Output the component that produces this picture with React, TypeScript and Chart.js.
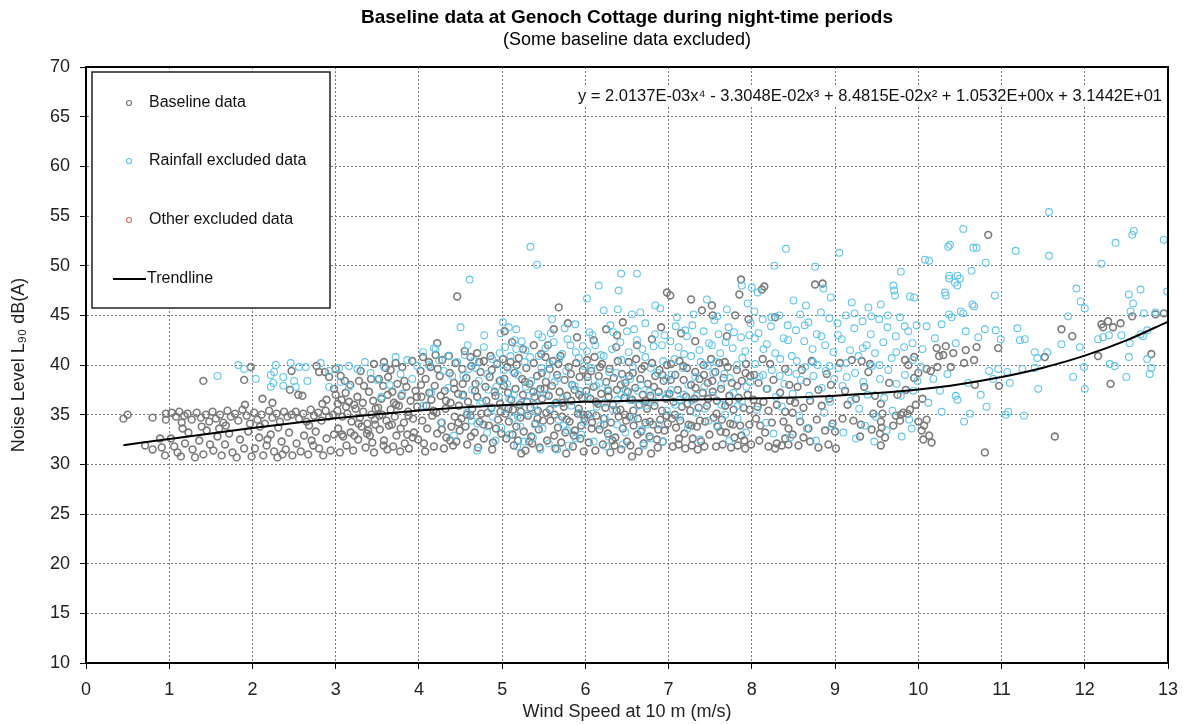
import React, { useEffect, useRef } from "react";
import { Chart, registerables } from "chart.js";

Chart.register(...registerables);

const FONT = "'Liberation Sans', Arial, Helvetica, sans-serif";

const titleText = "Baseline data at Genoch Cottage during night-time periods";
const subtitleText = "(Some baseline data excluded)";
const xAxisTitle = "Wind Speed at 10 m (m/s)";
const yAxisTitle = "Noise Level L\u2089\u2080 dB(A)";
const equationText =
  "y = 2.0137E-03x\u2074 - 3.3048E-02x\u00b3 + 8.4815E-02x\u00b2 + 1.0532E+00x + 3.1442E+01";
const legendLabels = ["Baseline data", "Rainfall excluded data", "Other excluded data", "Trendline"];

const xMin = 0;
const xMax = 13;
const yMin = 10;
const yMax = 70;
const yStep = 5;

const baselinePoints: [number, number][] = [
  [0.45,34.6],[0.50,35.0],[0.80,34.7],[0.96,35.1],[0.96,34.5],[0.89,32.6],[0.80,31.5],[0.71,31.9],[0.91,31.7],[0.95,30.9],
  [1.03,35.2],[1.08,34.8],[1.12,35.3],[1.18,34.9],[1.22,35.1],[1.27,34.5],[1.33,35.2],[1.38,34.7],[1.44,35.0],[1.48,34.3],[1.15,34.2],
  [1.02,32.6],[1.06,31.8],[1.10,31.2],[1.14,30.8],[1.19,32.1],[1.23,33.2],[1.28,31.5],[1.31,30.7],[1.36,32.4],[1.41,31.0],[1.45,33.4],[1.49,32.0],[1.16,33.6],[1.39,33.8],
  [1.41,38.4],
  [1.52,35.3],[1.56,34.6],[1.61,35.0],[1.65,34.2],[1.70,35.4],[1.74,34.8],[1.79,35.1],[1.83,34.4],[1.88,35.5],[1.93,34.9],[1.97,34.1],[1.68,33.9],
  [1.53,31.4],[1.58,32.8],[1.63,30.9],[1.67,32.0],[1.72,33.1],[1.76,31.2],[1.81,30.7],[1.85,32.5],[1.90,31.6],[1.95,33.3],[1.99,30.8],[1.60,33.6],
  [1.90,38.5],[1.98,39.8],[1.91,36.0],
  [2.02,35.2],[2.06,34.5],[2.11,35.0],[2.15,34.1],[2.20,35.4],[2.24,34.7],[2.29,35.1],[2.33,34.3],[2.38,35.3],[2.42,34.8],[2.47,35.0],[2.09,33.8],[2.31,33.7],
  [2.03,31.6],[2.08,32.7],[2.13,30.9],[2.17,31.9],[2.22,33.0],[2.26,31.3],[2.30,30.7],[2.35,32.3],[2.40,31.5],[2.44,33.2],[2.48,30.9],[2.18,32.5],[2.36,31.0],
  [2.24,36.2],[2.47,39.4],[2.45,37.5],[2.12,36.6],
  [2.52,35.3],[2.56,34.6],[2.61,35.1],[2.65,34.3],[2.70,35.5],[2.74,34.9],[2.79,35.2],[2.83,34.4],[2.88,35.4],[2.92,34.8],[2.97,35.0],[2.68,33.9],
  [2.53,32.1],[2.58,31.3],[2.62,32.9],[2.67,31.0],[2.71,32.4],[2.76,33.3],[2.80,31.6],[2.85,30.9],[2.89,32.6],[2.94,31.4],[2.98,33.0],[2.73,31.9],
  [2.60,36.9],[2.77,39.9],[2.80,39.3],[2.87,39.3],[2.84,36.1],[2.89,36.5],[2.92,38.8],[2.98,37.6],[2.55,37.0],
  [3.00,39.6],[3.06,38.9],[3.11,38.4],[3.30,39.4],[3.28,38.4],[3.00,37.0],[3.07,36.5],[3.12,37.2],[3.16,36.3],[3.22,36.0],[3.26,36.8],[3.34,37.9],[3.40,37.3],[3.45,36.4],[3.48,35.6],
  [3.02,35.4],[3.08,34.8],[3.14,35.1],[3.19,34.3],[3.24,35.6],[3.29,34.7],[3.33,35.3],[3.38,34.1],[3.43,35.0],[3.47,34.5],
  [3.03,33.6],[3.09,32.8],[3.13,31.9],[3.18,33.2],[3.21,31.4],[3.27,32.5],[3.31,33.8],[3.36,31.7],[3.41,32.9],[3.46,31.2],[3.05,31.2],[3.39,33.4],[3.44,32.2],
  [3.46,40.1],[3.58,40.3],[3.60,39.7],[3.66,39.5],[3.72,40.2],[3.80,39.8],[3.92,40.4],
  [3.52,38.6],[3.57,37.9],[3.63,38.8],[3.68,37.3],[3.74,38.1],[3.79,36.9],[3.85,37.8],[3.90,36.4],[3.96,37.4],[3.55,36.6],[3.70,36.2],
  [3.51,35.7],[3.56,35.0],[3.61,34.4],[3.66,35.5],[3.71,34.8],[3.76,35.9],[3.82,34.2],[3.87,35.3],[3.93,34.6],[3.98,35.8],
  [3.53,33.5],[3.58,32.4],[3.64,33.9],[3.69,31.8],[3.73,32.9],[3.78,33.6],[3.83,32.1],[3.88,31.6],[3.94,33.2],[3.99,32.5],[3.62,31.5],[3.86,33.0],
  [3.025,36.1],[3.075,33.0],[3.125,35.8],[3.175,38.0],[3.225,32.9],[3.275,34.1],[3.325,36.2],[3.375,33.1],[3.425,38.6],[3.475,34.0],
  [3.525,34.9],[3.575,31.9],[3.625,37.0],[3.675,34.0],[3.725,36.0],[3.775,31.3],[3.825,38.4],[3.875,34.9],[3.925,32.7],[3.975,36.8],
  [4.025,38.0],[4.075,31.3],[4.125,37.2],[4.175,35.4],[4.225,39.6],[4.275,33.5],[4.325,36.4],[4.375,32.4],[4.425,37.6],[4.475,34.2],
  [4.22,42.2],[4.05,40.8],[4.12,40.3],[4.20,41.0],[4.28,40.5],[4.36,40.9],[4.44,40.2],
  [4.02,39.4],[4.08,38.6],[4.14,39.8],[4.19,37.9],[4.25,38.9],[4.31,37.4],[4.37,39.2],[4.42,38.2],[4.47,37.1],
  [4.03,36.8],[4.09,35.9],[4.15,36.5],[4.21,35.2],[4.26,36.9],[4.32,35.6],[4.38,36.2],[4.43,34.8],[4.48,35.9],
  [4.04,34.4],[4.10,33.6],[4.16,34.9],[4.22,33.1],[4.27,34.2],[4.33,32.7],[4.39,33.8],[4.45,32.3],[4.06,32.1],[4.18,31.8],[4.30,31.6],[4.41,31.9],[4.49,33.4],
  [4.46,46.9],[4.55,41.4],[4.62,40.8],[4.70,41.2],[4.78,40.4],[4.86,40.9],[4.94,40.1],
  [4.52,39.6],[4.57,38.7],[4.63,39.9],[4.68,38.1],[4.74,39.3],[4.80,37.8],[4.85,38.8],[4.91,37.3],[4.97,38.4],
  [4.53,37.0],[4.59,36.3],[4.64,35.6],[4.70,36.8],[4.75,35.1],[4.81,36.4],[4.87,35.7],[4.92,36.9],[4.98,35.3],
  [4.51,34.6],[4.56,33.8],[4.62,34.9],[4.67,33.2],[4.73,34.3],[4.78,32.6],[4.84,33.9],[4.89,32.2],[4.95,34.5],[4.99,33.1],[4.58,32.0],[4.71,31.7],[4.88,31.5],
  [4.525,38.1],[4.575,35.0],[4.625,32.8],[4.675,37.4],[4.725,40.3],[4.775,34.0],[4.825,35.2],[4.875,39.5],[4.925,33.6],[4.975,36.1],
  [5.03,43.4],[5.12,42.3],[5.25,41.6],[5.38,42.0],[5.47,41.1],
  [5.01,40.6],[5.06,39.8],[5.10,40.3],[5.15,39.2],[5.20,40.7],[5.24,38.6],[5.29,39.7],[5.33,38.1],[5.38,40.2],[5.42,38.9],[5.46,37.6],
  [5.02,37.9],[5.07,37.2],[5.11,36.5],[5.16,37.6],[5.21,36.0],[5.25,37.0],[5.30,36.3],[5.34,35.7],[5.39,36.8],[5.43,35.4],[5.48,36.6],
  [5.04,35.1],[5.08,34.3],[5.13,35.5],[5.17,33.8],[5.22,34.7],[5.26,33.3],[5.31,34.9],[5.35,32.8],[5.40,34.1],[5.44,33.5],[5.49,34.4],
  [5.05,32.6],[5.14,31.9],[5.19,32.4],[5.28,31.4],[5.36,32.1],[5.45,31.7],[5.23,31.1],
  [5.025,38.6],[5.075,35.6],[5.125,33.0],[5.175,40.0],[5.225,35.3],[5.275,38.3],[5.325,32.3],[5.375,37.3],[5.425,34.6],[5.475,39.2],
  [5.68,45.8],[5.62,43.6],[5.79,44.2],[5.90,42.8],[5.55,42.0],
  [5.52,40.8],[5.57,39.6],[5.61,40.4],[5.66,39.0],[5.70,40.9],[5.75,38.5],[5.80,39.8],[5.84,38.0],[5.89,40.2],[5.93,38.8],[5.97,39.5],
  [5.51,37.6],[5.56,36.9],[5.60,37.9],[5.65,36.2],[5.69,37.3],[5.74,35.8],[5.78,36.9],[5.83,36.4],[5.87,37.5],[5.92,35.6],[5.96,36.7],
  [5.53,35.2],[5.58,34.4],[5.63,35.0],[5.67,33.7],[5.72,34.8],[5.76,33.2],[5.81,34.3],[5.86,32.9],[5.91,35.1],[5.95,33.9],[5.99,34.6],
  [5.54,32.4],[5.64,31.6],[5.71,32.2],[5.77,31.1],[5.85,31.8],[5.94,32.6],[5.98,31.3],
  [5.525,38.3],[5.575,35.5],[5.625,32.9],[5.675,40.1],[5.725,36.2],[5.775,34.5],[5.825,39.1],[5.875,33.4],[5.925,37.0],[5.975,35.0],
  [6.38,43.0],[6.37,41.8],[6.10,42.5],[6.25,43.6],[6.45,44.3],
  [6.02,40.5],[6.07,39.4],[6.11,40.8],[6.16,38.9],[6.20,40.1],[6.25,38.3],[6.29,39.6],[6.34,38.7],[6.39,40.4],[6.44,39.1],[6.48,38.2],
  [6.01,37.4],[6.06,36.6],[6.10,37.8],[6.15,36.1],[6.19,37.1],[6.24,35.7],[6.28,36.8],[6.33,36.0],[6.38,37.5],[6.42,35.5],[6.47,36.7],
  [6.03,35.0],[6.08,34.2],[6.13,34.9],[6.17,33.5],[6.22,34.6],[6.27,33.1],[6.31,34.2],[6.36,32.7],[6.40,34.8],[6.45,33.6],[6.49,34.4],
  [6.04,32.2],[6.12,31.4],[6.21,32.0],[6.30,31.2],[6.35,31.9],[6.43,31.5],[6.50,32.3],
  [6.025,38.8],[6.075,33.6],[6.125,36.3],[6.175,39.8],[6.225,34.0],[6.275,37.4],[6.325,32.4],[6.375,35.4],[6.425,38.0],[6.475,35.0],
  [6.56,30.8],[6.91,43.8],[6.80,42.6],[6.98,47.3],[6.62,42.0],
  [6.52,40.3],[6.57,39.2],[6.61,40.6],[6.66,38.6],[6.71,39.9],[6.75,38.1],[6.80,40.2],[6.84,38.9],[6.89,39.5],[6.94,38.4],[6.98,40.0],
  [6.51,37.3],[6.56,36.5],[6.60,37.7],[6.65,36.0],[6.69,37.0],[6.74,35.6],[6.78,36.9],[6.83,35.9],[6.88,37.3],[6.92,35.4],[6.97,36.6],
  [6.53,34.8],[6.58,33.9],[6.63,34.6],[6.67,33.3],[6.72,34.2],[6.77,32.8],[6.81,34.0],[6.86,32.5],[6.90,34.5],[6.95,33.4],[6.99,34.1],
  [6.54,31.9],[6.64,31.3],[6.70,32.1],[6.79,31.1],[6.87,31.7],[6.93,32.3],
  [6.525,38.9],[6.575,35.4],[6.625,33.0],[6.675,39.6],[6.725,36.4],[6.775,34.3],[6.825,37.8],[6.875,33.5],[6.925,39.0],[6.975,34.9],
  [7.02,47.0],[7.27,46.6],[7.40,45.5],[7.15,43.2],[7.32,42.4],
  [7.03,40.1],[7.08,39.0],[7.13,40.4],[7.18,38.5],[7.22,39.7],[7.27,38.0],[7.32,39.3],[7.37,38.6],[7.42,40.0],[7.47,38.2],
  [7.01,37.1],[7.06,36.3],[7.11,37.5],[7.16,35.8],[7.21,36.8],[7.26,35.4],[7.31,36.6],[7.36,35.7],[7.41,37.2],[7.46,35.9],
  [7.04,34.6],[7.09,33.7],[7.14,34.4],[7.19,33.1],[7.24,34.0],[7.29,32.6],[7.34,33.8],[7.39,32.3],[7.44,34.3],[7.49,33.0],
  [7.05,31.8],[7.12,32.0],[7.20,31.6],[7.28,31.9],[7.35,31.5],[7.43,31.8],
  [7.025,38.5],[7.075,35.0],[7.125,32.6],[7.175,39.9],[7.225,36.1],[7.275,33.9],[7.325,37.7],[7.375,34.4],[7.425,39.0],[7.475,36.6],
  [7.52,46.0],[7.53,45.0],[7.87,48.6],[7.85,47.1],[7.80,45.0],[7.96,44.6],[7.70,42.9],
  [7.51,40.6],[7.56,39.3],[7.61,40.2],[7.66,38.7],[7.71,39.8],[7.76,38.2],[7.82,39.5],[7.88,38.4],[7.93,40.1],[7.98,38.9],
  [7.53,37.3],[7.58,36.4],[7.63,37.6],[7.68,35.9],[7.73,36.9],[7.78,35.5],[7.84,36.7],[7.90,35.7],[7.95,37.0],
  [7.54,34.7],[7.59,33.8],[7.64,34.5],[7.69,33.2],[7.74,34.1],[7.79,32.7],[7.86,33.9],[7.91,32.4],[7.97,34.0],
  [7.57,31.8],[7.65,32.0],[7.75,31.7],[7.83,31.9],[7.92,31.6],[7.99,32.0],
  [7.525,38.4],[7.575,35.1],[7.625,33.3],[7.675,40.3],[7.725,36.3],[7.775,34.0],[7.825,37.9],[7.875,32.9],[7.925,39.2],[7.975,35.5],
  [8.12,47.6],[8.15,47.9],[8.28,44.8],[8.13,40.6],[8.40,39.6],[8.22,40.1],
  [8.03,39.0],[8.08,38.2],[8.18,37.6],[8.26,38.5],[8.34,37.2],[8.45,38.0],
  [8.02,36.5],[8.07,35.8],[8.14,36.3],[8.20,35.4],[8.30,36.0],[8.40,35.3],[8.49,35.2],[8.46,36.4],
  [8.05,34.6],[8.10,33.9],[8.16,33.2],[8.24,34.2],[8.38,34.3],[8.44,33.6],[8.49,33.0],[8.40,32.6],
  [8.30,32.1],[8.28,31.6],[8.36,31.9],[8.44,32.0],[8.09,32.4],[8.20,31.8],
  [8.76,48.1],[8.85,48.2],[8.72,40.4],[8.60,39.5],[8.90,39.1],
  [8.55,37.8],[8.66,38.3],[8.80,37.5],[8.95,38.0],
  [8.52,36.2],[8.62,35.7],[8.70,36.4],[8.84,35.9],[8.93,36.6],
  [8.58,34.3],[8.68,33.6],[8.78,34.5],[8.88,33.4],[8.97,34.1],
  [8.62,32.7],[8.70,32.3],[8.80,31.7],[8.92,32.0],[8.56,31.9],
  [9.06,40.2],[9.20,40.5],[9.32,40.4],[9.42,40.1],[9.40,39.3],
  [9.09,34.6],[9.22,34.4],[9.31,34.0],[9.30,32.8],[9.44,33.5],[9.46,35.1],[9.01,31.6],[9.00,33.3],
  [9.12,37.4],[9.25,36.6],[9.35,37.8],[9.15,36.0],[9.48,36.9],
  [9.84,40.5],[9.88,40.0],[9.97,36.0],[9.55,34.3],[9.56,33.7],[9.54,33.1],[9.60,32.7],[9.55,31.9],[9.57,35.1],[9.55,36.1],
  [9.73,34.9],[9.82,35.2],[9.70,33.9],[9.85,37.5],[9.95,38.7],[9.79,35.0],[9.87,35.1],[9.90,35.5],[9.78,34.4],[9.95,40.8],[9.65,38.2],[9.75,37.0],
  [10.00,39.2],[10.10,39.6],[10.22,41.7],[10.30,41.0],[10.33,41.9],[10.42,41.2],[10.25,40.9],[10.39,39.8],[10.23,39.8],[10.15,39.4],
  [10.05,36.6],[10.10,34.5],[10.07,33.9],[10.13,32.9],[10.16,32.2],[10.00,34.3],[10.04,33.4],[10.06,32.5],
  [10.55,40.2],[10.57,41.5],[10.67,40.5],[10.70,41.8],[10.96,41.7],[10.68,38.0],[10.97,37.9],[10.84,53.1],[10.80,31.2],
  [11.52,40.8],[11.64,32.8],[11.72,43.6],[11.85,42.9],[12.16,40.9],[12.28,44.4],[12.20,44.1],[12.22,43.8],[12.34,43.8],
  [12.43,44.2],[12.57,44.9],[12.85,45.1],[12.80,41.1],[12.31,38.1],[12.95,45.2]
];

const rainfallPoints: [number, number][] = [
  [1.58,38.9],[1.83,40.0],[1.90,39.6],[2.04,38.6],[2.22,39.0],[2.26,39.3],[2.28,40.0],[2.46,40.2],[2.37,38.8],[2.22,37.8],
  [2.25,38.2],[2.37,37.9],[2.50,38.4],[2.52,37.8],[2.56,39.8],[2.64,39.8],[2.66,38.4],[2.82,40.2],[2.92,39.4],[3.04,39.7],
  [3.16,39.9],[3.26,39.6],[3.06,38.3],[3.16,37.8],[2.92,37.8],
  [3.35,40.3],[3.42,39.2],[3.50,38.5],[3.58,39.8],[3.65,38.0],[3.72,40.8],[3.78,39.1],[3.86,40.5],[3.92,38.6],[3.98,39.9],
  [4.05,41.3],[4.12,40.0],[4.18,41.7],[4.20,41.6],[4.24,40.5],[4.30,39.4],[4.35,40.9],[4.40,38.9],[4.46,40.3],[4.50,43.8],
  [4.61,48.6],[4.35,37.7],[4.15,37.2],[3.55,36.8],[3.80,37.1],[4.05,35.9],[4.28,34.2],[4.42,32.9],
  [5.01,44.3],[5.08,43.8],[5.17,43.6],[4.98,43.2],[5.15,42.5],[5.17,41.6],[5.48,42.8],[5.34,51.9],[5.42,50.1],
  [4.55,41.0],[4.60,39.6],[4.66,40.4],[4.72,38.4],[4.78,41.8],[4.82,39.1],[4.88,40.6],[4.93,37.8],[4.97,41.2],
  [4.52,36.9],[4.58,35.2],[4.64,37.5],[4.70,34.1],[4.76,36.3],[4.82,33.2],[4.87,35.6],[4.92,32.4],[4.96,36.8],[4.70,31.4],[4.99,33.7],
  [5.02,39.5],[5.06,38.1],[5.10,40.9],[5.14,37.0],[5.19,39.0],[5.23,36.2],[5.27,40.3],[5.31,35.1],[5.35,38.4],[5.39,34.0],[5.43,37.4],[5.47,39.7],
  [5.03,35.6],[5.09,33.0],[5.13,34.6],[5.18,31.8],[5.22,33.8],[5.26,32.3],[5.32,36.9],[5.37,32.7],[5.41,35.3],[5.46,31.5],[5.28,41.5],[5.44,40.9],
  [4.535,38.9],[4.585,42.0],[4.635,34.4],[4.685,39.7],[4.735,36.1],[4.785,43.0],[4.835,37.5],[4.885,34.8],[4.935,40.2],[4.985,38.5],
  [5.035,41.8],[5.085,36.6],[5.135,39.4],[5.185,34.9],[5.235,42.4],[5.285,37.8],[5.335,40.8],[5.385,36.0],[5.435,43.1],[5.485,33.6],
  [6.43,49.2],[6.62,49.2],[6.16,48.0],[6.40,47.5],[6.02,46.7],[6.22,45.5],[6.39,45.6],[6.56,45.1],[6.66,45.3],[6.84,46.0],
  [6.90,45.7],[5.60,44.6],[5.75,43.7],[5.88,44.1],[6.05,43.3],[6.30,44.0],[6.50,43.4],[6.72,44.2],[6.95,43.0],
  [5.52,41.7],[5.57,40.1],[5.62,42.3],[5.67,38.7],[5.72,41.1],[5.77,39.4],[5.82,42.0],[5.87,37.9],[5.92,40.7],[5.97,41.9],
  [5.53,37.0],[5.58,35.6],[5.63,38.3],[5.68,34.5],[5.73,36.6],[5.78,33.4],[5.83,35.9],[5.88,32.6],[5.93,37.4],[5.98,34.2],
  [5.56,32.1],[5.66,31.5],[5.80,31.9],[5.95,33.0],
  [5.535,39.0],[5.585,43.2],[5.635,36.1],[5.685,40.6],[5.735,33.9],[5.785,42.6],[5.835,38.0],[5.885,41.3],[5.935,35.2],[5.985,39.9],
  [6.02,41.4],[6.07,39.7],[6.12,42.0],[6.17,38.2],[6.22,40.9],[6.27,37.6],[6.32,41.6],[6.37,39.2],[6.42,42.3],[6.47,38.5],
  [6.03,36.8],[6.08,35.1],[6.13,37.9],[6.18,33.9],[6.23,36.2],[6.28,32.8],[6.33,35.5],[6.38,34.0],[6.43,37.0],[6.48,33.2],
  [6.10,32.3],[6.25,31.8],[6.45,32.0],
  [6.035,38.4],[6.085,43.0],[6.135,35.8],[6.185,41.0],[6.235,34.6],[6.285,39.3],[6.335,43.3],[6.385,36.5],[6.435,40.5],[6.485,37.4],
  [6.52,41.3],[6.57,39.8],[6.62,42.5],[6.67,38.0],[6.72,40.8],[6.77,37.3],[6.82,41.9],[6.87,39.2],[6.92,42.0],[6.97,38.6],
  [6.53,36.5],[6.58,34.7],[6.63,37.4],[6.68,33.5],[6.73,35.9],[6.78,32.6],[6.83,36.3],[6.88,34.0],[6.93,32.3],[6.98,35.4],[6.70,31.9],
  [6.535,38.6],[6.585,43.6],[6.635,35.9],[6.685,41.6],[6.735,34.0],[6.785,39.7],[6.835,43.1],[6.885,36.8],[6.935,40.4],[6.985,37.1],
  [7.46,46.6],[7.88,48.0],[8.00,47.8],[8.07,47.3],[7.10,44.8],[7.30,45.1],[7.55,44.5],[7.70,45.6],[7.95,46.2],[7.20,43.5],[7.60,43.1],
  [7.02,42.4],[7.07,40.6],[7.12,41.8],[7.17,39.7],[7.22,42.9],[7.27,40.9],[7.32,38.8],[7.37,41.5],[7.42,43.4],[7.47,39.9],
  [7.52,42.0],[7.57,40.3],[7.62,41.2],[7.67,39.1],[7.72,43.8],[7.77,41.7],[7.82,40.0],[7.87,42.8],[7.92,41.4],[7.97,43.0],
  [7.03,37.5],[7.08,36.0],[7.13,34.8],[7.18,37.0],[7.23,33.6],[7.28,36.4],[7.33,35.2],[7.38,32.5],[7.43,37.8],[7.48,34.4],
  [7.53,36.9],[7.58,33.9],[7.63,38.0],[7.68,35.0],[7.73,32.4],[7.78,37.2],[7.83,34.6],[7.88,36.3],[7.93,33.2],[7.98,38.3],
  [7.035,39.0],[7.085,43.9],[7.135,36.5],[7.185,41.1],[7.235,38.0],[7.285,44.0],[7.335,36.9],[7.385,40.3],[7.435,35.6],[7.485,42.2],
  [7.535,39.2],[7.585,44.9],[7.635,36.0],[7.685,42.3],[7.735,38.7],[7.785,43.3],[7.835,35.9],[7.885,40.7],[7.935,37.8],[7.985,44.2],
  [8.41,51.7],[8.27,50.0],[8.76,49.9],[8.86,47.7],[8.50,46.5],[8.65,46.0],[8.95,46.8],
  [8.03,45.4],[8.08,43.2],[8.13,44.6],[8.18,42.1],[8.23,43.9],[8.28,41.2],[8.33,45.0],[8.38,42.7],[8.43,44.0],[8.48,40.9],
  [8.53,43.5],[8.58,45.1],[8.63,42.4],[8.68,44.3],[8.73,41.6],[8.78,43.1],[8.83,45.3],[8.88,42.0],[8.93,44.7],[8.98,41.3],
  [8.04,40.1],[8.09,38.8],[8.14,41.6],[8.19,37.6],[8.24,39.5],[8.29,36.8],[8.34,40.6],[8.39,38.1],[8.44,39.3],[8.49,37.1],
  [8.54,40.4],[8.59,38.5],[8.64,39.8],[8.69,36.9],[8.74,38.9],[8.79,40.0],[8.84,37.7],[8.89,39.4],[8.94,36.3],[8.99,38.6],
  [8.06,35.5],[8.17,34.2],[8.26,33.1],[8.36,35.8],[8.46,32.7],[8.57,34.9],[8.66,33.6],[8.77,32.4],[8.87,35.2],[8.96,33.8],
  [8.035,42.7],[8.135,39.0],[8.235,44.8],[8.335,38.9],[8.435,42.5],[8.535,39.1],[8.635,44.0],[8.735,40.3],[8.835,42.9],[8.935,39.9],
  [9.05,51.3],[9.79,49.4],[9.70,48.0],[9.71,47.5],[9.72,47.0],[9.95,46.8],[9.90,46.9],[9.20,46.3],[9.40,45.8],[9.55,46.1],
  [9.03,44.2],[9.08,42.6],[9.13,45.0],[9.18,41.5],[9.23,43.7],[9.28,40.9],[9.33,44.4],[9.38,42.0],[9.43,43.1],[9.48,41.2],
  [9.53,44.6],[9.58,42.3],[9.63,43.8],[9.68,40.7],[9.73,42.9],[9.78,44.8],[9.83,41.8],[9.88,43.4],[9.93,42.2],[9.98,44.0],
  [9.04,39.7],[9.09,37.9],[9.14,38.8],[9.19,36.4],[9.24,39.2],[9.29,35.6],[9.34,38.3],[9.39,37.0],[9.44,39.9],[9.49,34.8],
  [9.54,38.6],[9.59,36.7],[9.64,39.5],[9.69,35.4],[9.74,38.1],[9.79,36.9],[9.84,39.0],[9.89,34.5],[9.94,37.4],[9.99,38.4],
  [9.10,33.2],[9.25,32.6],[9.36,33.9],[9.47,32.3],[9.62,33.4],[9.80,32.8],[9.92,33.6],
  [9.035,43.0],[9.135,40.2],[9.235,45.2],[9.335,41.7],[9.435,44.9],[9.535,40.0],[9.635,45.0],[9.735,41.3],[9.835,43.9],[9.935,40.5],
  [10.54,53.7],[10.38,52.1],[10.70,51.8],[10.36,51.9],[10.66,51.8],[10.13,50.5],[10.08,50.6],[10.81,50.3],[10.37,48.7],[10.50,48.7],
  [10.47,48.0],[10.64,49.5],[10.37,49.0],[10.47,49.0],[10.44,48.3],[10.33,47.0],[10.32,47.3],[10.92,47.0],[10.67,45.9],[10.54,45.2],
  [10.40,44.8],[10.65,46.1],[10.51,45.4],[10.37,45.1],
  [10.57,43.4],[10.80,43.6],[10.93,43.5],[10.99,42.6],[10.10,43.9],[10.20,42.7],[10.28,44.1],[10.05,41.6],[10.45,42.2],[10.72,42.8],
  [10.03,39.8],[10.18,38.6],[10.26,37.4],[10.35,39.1],[10.45,36.9],[10.47,36.5],[10.60,38.2],[10.62,35.1],[10.75,37.0],[10.85,39.4],
  [10.96,39.6],[10.12,36.2],[10.28,35.3],[10.55,34.3],[10.82,35.8],[10.90,38.6],
  [11.57,55.4],[11.17,51.5],[11.57,51.0],[12.59,53.5],[12.57,53.1],[12.37,52.3],[12.95,52.6],[12.99,47.4],[11.90,47.7],[11.95,46.4],
  [12.20,50.2],[12.67,47.6],[12.53,47.1],[12.58,46.2],[12.00,45.7],[11.80,44.9],[12.55,45.4],[12.71,45.2],[12.85,45.3],[12.75,43.5],
  [12.67,43.1],[12.70,42.9],[12.54,42.2],[12.44,43.0],[12.29,43.0],[12.22,42.8],[12.16,42.6],[11.94,41.8],[11.72,42.1],[11.55,41.3],
  [11.40,41.3],[11.43,40.7],[11.19,43.7],[11.28,42.6],[11.22,42.5],[11.99,39.8],[12.30,40.1],[12.36,39.9],[12.50,38.8],[12.00,37.6],
  [11.86,38.8],[11.44,37.6],[11.40,39.7],[12.78,39.1],[12.80,39.7],[12.75,40.6],[12.53,40.8],[11.05,35.0],[11.08,35.3],[11.27,34.9],
  [11.07,39.3],[11.25,39.6],[11.10,38.2]
];

const otherPoints: [number, number][] = [];

const trendWind = [0.45, 1, 1.5, 2, 2.5, 3, 3.5, 4, 4.5, 5, 5.5, 6, 6.5, 7, 7.5, 8, 8.5, 9, 9.5, 10, 10.5, 11, 11.5, 12, 12.5, 13];
const trendNoise = [31.93, 32.55, 33.11, 33.66, 34.17, 34.64, 35.05, 35.41, 35.71, 35.96, 36.14, 36.29, 36.39, 36.47, 36.54, 36.62, 36.74, 36.91, 37.17, 37.54, 38.07, 38.79, 39.73, 40.94, 42.48, 44.37];

const COL_BASE = "#7a7a7a";
const COL_RAIN = "#5fc4e9";
const COL_OTHER = "#e07070";

const decorPlugin = {
  id: "decor",
  afterDatasetsDraw(chart: any) {
    const ctx = chart.ctx as CanvasRenderingContext2D;
    const ca = chart.chartArea;
    ctx.save();
    ctx.strokeStyle = "#000";
    ctx.lineWidth = 2;
    ctx.strokeRect(ca.left, ca.top, ca.right - ca.left, ca.bottom - ca.top);

    ctx.font = `16.5px ${FONT}`;
    const ew = ctx.measureText(equationText).width;
    const ex = ca.right - 6;
    const ey = ca.top + 29;
    ctx.fillStyle = "#fff";
    ctx.fillRect(ex - ew - 4, ey - 11, ew + 8, 22);
    ctx.fillStyle = "#111";
    ctx.textAlign = "right";
    ctx.textBaseline = "middle";
    ctx.fillText(equationText, ex, ey);

    const lx = ca.left + 6;
    const ly = ca.top + 5;
    const lw = 238;
    const lh = 236;
    ctx.fillStyle = "#fff";
    ctx.fillRect(lx, ly, lw, lh);
    ctx.strokeStyle = "#222";
    ctx.lineWidth = 1.5;
    ctx.strokeRect(lx, ly, lw, lh);

    ctx.font = `16px ${FONT}`;
    ctx.textAlign = "left";
    ctx.textBaseline = "middle";
    const rows = [31, 89, 148, 207];
    const cols = [COL_BASE, COL_RAIN, COL_OTHER];
    for (let i = 0; i < 3; i++) {
      ctx.beginPath();
      ctx.arc(lx + 37, ly + rows[i], 2.5, 0, Math.PI * 2);
      ctx.strokeStyle = cols[i];
      ctx.lineWidth = 1.2;
      ctx.stroke();
      ctx.fillStyle = "#111";
      ctx.fillText(legendLabels[i], lx + 57, ly + rows[i]);
    }
    ctx.beginPath();
    ctx.moveTo(lx + 21, ly + rows[3]);
    ctx.lineTo(lx + 54, ly + rows[3]);
    ctx.strokeStyle = "#000";
    ctx.lineWidth = 2;
    ctx.stroke();
    ctx.fillStyle = "#111";
    ctx.fillText(legendLabels[3], lx + 55, ly + rows[3]);

    const cx = (ca.left + ca.right) / 2;
    ctx.textAlign = "center";
    ctx.font = `bold 19px ${FONT}`;
    ctx.fillStyle = "#000";
    ctx.fillText(titleText, cx, 18);
    ctx.font = `18px ${FONT}`;
    ctx.fillText(subtitleText, cx, 40);
    ctx.restore();
  },
};

export default function App() {
  const ref = useRef<HTMLCanvasElement | null>(null);
  useEffect(() => {
    if (!ref.current) return;
    const tickFont = { family: FONT, size: 18 };
    const chart = new Chart(ref.current, {
      type: "scatter",
      data: {
        datasets: [
          {
            type: "line",
            label: legendLabels[3],
            data: trendWind.map((x, i) => ({ x, y: trendNoise[i] })),
            borderColor: "#000",
            borderWidth: 2,
            pointRadius: 0,
            fill: false,
            cubicInterpolationMode: "monotone",
            order: 0,
          } as any,
          {
            label: legendLabels[2],
            data: otherPoints.map(([x, y]) => ({ x, y })),
            borderColor: COL_OTHER,
            backgroundColor: "transparent",
            borderWidth: 1,
            pointRadius: 3,
            order: 1,
          },
          {
            label: legendLabels[1],
            data: rainfallPoints.map(([x, y]) => ({ x, y })),
            borderColor: COL_RAIN,
            backgroundColor: "transparent",
            borderWidth: 1.1,
            pointRadius: 3.4,
            order: 2,
          },
          {
            label: legendLabels[0],
            data: baselinePoints.map(([x, y]) => ({ x, y })),
            borderColor: COL_BASE,
            backgroundColor: "transparent",
            borderWidth: 1.6,
            pointRadius: 3.4,
            order: 3,
          },
        ],
      },
      options: {
        animation: false,
        responsive: true,
        maintainAspectRatio: false,
        events: [],
        layout: { padding: { top: 67, right: 21, left: 0, bottom: 0 } },
        plugins: {
          legend: { display: false },
          tooltip: { enabled: false },
          title: { display: false },
        },
        scales: {
          x: {
            type: "linear",
            position: "bottom",
            min: xMin,
            max: xMax,
            afterFit: (s: any) => {
              s.height = 62;
            },
            ticks: { stepSize: 1, font: tickFont, color: "#222", padding: 10, autoSkip: false, maxRotation: 0 },
            grid: { color: "#777", lineWidth: 1, drawTicks: true, tickLength: 6, tickColor: "#000", tickWidth: 1, tickBorderDash: [] },
            border: { display: true, color: "#000", width: 2, dash: [2, 2] },
            title: { display: true, text: xAxisTitle, font: tickFont, color: "#222", padding: { top: 0, bottom: 2 } },
          },
          y: {
            type: "linear",
            min: yMin,
            max: yMax,
            afterFit: (s: any) => {
              s.width = 86;
            },
            ticks: { stepSize: yStep, font: tickFont, color: "#222", padding: 10 },
            grid: { color: "#777", lineWidth: 1, drawTicks: true, tickLength: 6, tickColor: "#000", tickWidth: 1, tickBorderDash: [] },
            border: { display: true, color: "#000", width: 2, dash: [2, 2] },
            title: { display: true, text: yAxisTitle, font: tickFont, color: "#222", padding: { top: 8, bottom: 0 } },
          },
        },
      },
      plugins: [decorPlugin],
    });
    return () => chart.destroy();
  }, []);

  return (
    <div style={{ position: "fixed", left: 0, top: 0, width: 1189, height: 725, background: "#fff" }}>
      <canvas ref={ref} />
    </div>
  );
}
